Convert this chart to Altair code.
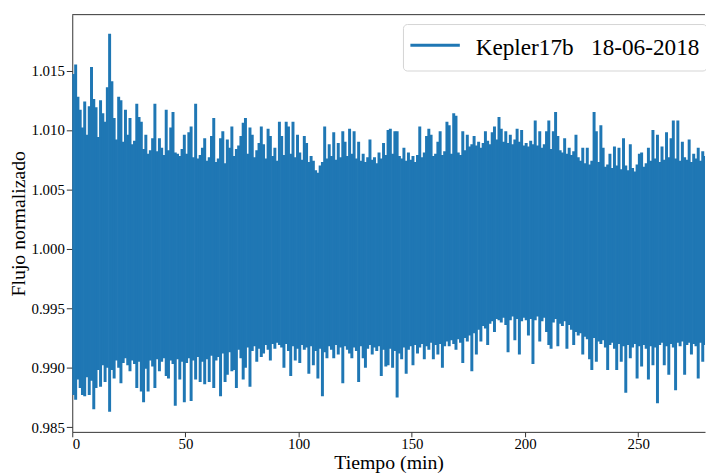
import altair as alt
import pandas as pd

# Per-minute maximum (upper envelope) of the normalised flux
flux_max = [
    1.0147, 1.0155, 1.0128, 1.0117, 1.0102, 1.0124, 1.0096, 1.0120, 1.0153, 1.0126,
    1.0119, 1.0094, 1.0125, 1.0114, 1.0107, 1.0136, 1.0181, 1.0141, 1.0110, 1.0092,
    1.0128, 1.0125, 1.0090, 1.0117, 1.0096, 1.0110, 1.0088, 1.0091, 1.0122, 1.0111,
    1.0107, 1.0084, 1.0096, 1.0080, 1.0083, 1.0093, 1.0122, 1.0082, 1.0093, 1.0085,
    1.0079, 1.0117, 1.0083, 1.0102, 1.0115, 1.0081, 1.0080, 1.0078, 1.0084, 1.0096,
    1.0080, 1.0098, 1.0103, 1.0077, 1.0122, 1.0076, 1.0079, 1.0085, 1.0093, 1.0074,
    1.0077, 1.0095, 1.0110, 1.0073, 1.0076, 1.0093, 1.0099, 1.0072, 1.0092, 1.0085,
    1.0103, 1.0078, 1.0084, 1.0087, 1.0095, 1.0106, 1.0110, 1.0080, 1.0102, 1.0096,
    1.0077, 1.0083, 1.0089, 1.0103, 1.0088, 1.0076, 1.0101, 1.0095, 1.0078, 1.0085,
    1.0074, 1.0107, 1.0095, 1.0079, 1.0107, 1.0103, 1.0080, 1.0107, 1.0077, 1.0096,
    1.0081, 1.0075, 1.0095, 1.0089, 1.0073, 1.0078, 1.0074, 1.0066, 1.0064, 1.0070,
    1.0073, 1.0103, 1.0076, 1.0088, 1.0078, 1.0098, 1.0075, 1.0089, 1.0077, 1.0099,
    1.0090, 1.0078, 1.0101, 1.0080, 1.0099, 1.0076, 1.0090, 1.0074, 1.0080, 1.0073,
    1.0077, 1.0092, 1.0075, 1.0077, 1.0072, 1.0081, 1.0076, 1.0089, 1.0079, 1.0100,
    1.0101, 1.0080, 1.0099, 1.0099, 1.0078, 1.0076, 1.0085, 1.0074, 1.0081, 1.0075,
    1.0078, 1.0073, 1.0079, 1.0103, 1.0077, 1.0081, 1.0095, 1.0101, 1.0096, 1.0078,
    1.0080, 1.0090, 1.0099, 1.0079, 1.0082, 1.0107, 1.0104, 1.0080, 1.0114, 1.0112,
    1.0081, 1.0079, 1.0099, 1.0083, 1.0096, 1.0086, 1.0088, 1.0095, 1.0087, 1.0090,
    1.0085, 1.0089, 1.0099, 1.0091, 1.0088, 1.0098, 1.0103, 1.0092, 1.0111, 1.0101,
    1.0090, 1.0099, 1.0089, 1.0096, 1.0088, 1.0092, 1.0101, 1.0090, 1.0100, 1.0087,
    1.0089, 1.0086, 1.0091, 1.0088, 1.0108, 1.0087, 1.0099, 1.0085, 1.0088, 1.0099,
    1.0108, 1.0084, 1.0099, 1.0115, 1.0095, 1.0083, 1.0081, 1.0093, 1.0080, 1.0085,
    1.0079, 1.0082, 1.0096, 1.0077, 1.0074, 1.0085, 1.0072, 1.0085, 1.0071, 1.0074,
    1.0115, 1.0099, 1.0073, 1.0104, 1.0085, 1.0069, 1.0071, 1.0080, 1.0068, 1.0086,
    1.0070, 1.0085, 1.0067, 1.0093, 1.0070, 1.0066, 1.0088, 1.0068, 1.0065, 1.0071,
    1.0080, 1.0081, 1.0069, 1.0072, 1.0085, 1.0074, 1.0100, 1.0076, 1.0096, 1.0073,
    1.0086, 1.0075, 1.0098, 1.0077, 1.0093, 1.0108, 1.0076, 1.0108, 1.0074, 1.0090,
    1.0077, 1.0075, 1.0092, 1.0073, 1.0080, 1.0076, 1.0085, 1.0074, 1.0082, 1.0078,
]

# Per-minute minimum (lower envelope)
flux_min = [
    0.9877, 0.9873, 0.9890, 0.9883, 0.9877, 0.9876, 0.9892, 0.9877, 0.9889, 0.9865,
    0.9883, 0.9898, 0.9884, 0.9902, 0.9888, 0.9900, 0.9863, 0.9898, 0.9891, 0.9906,
    0.9900, 0.9887, 0.9904, 0.9908, 0.9902, 0.9897, 0.9906, 0.9903, 0.9883, 0.9905,
    0.9880, 0.9871, 0.9899, 0.9880, 0.9906, 0.9901, 0.9883, 0.9907, 0.9897, 0.9905,
    0.9908, 0.9893, 0.9891, 0.9906, 0.9903, 0.9868, 0.9907, 0.9890, 0.9905, 0.9871,
    0.9904, 0.9908, 0.9872, 0.9906, 0.9890, 0.9909, 0.9888, 0.9905, 0.9886, 0.9907,
    0.9888, 0.9910, 0.9883, 0.9906, 0.9909, 0.9876, 0.9912, 0.9888, 0.9894, 0.9913,
    0.9897, 0.9898, 0.9883, 0.9915, 0.9908, 0.9890, 0.9900, 0.9917, 0.9884, 0.9914,
    0.9918, 0.9905, 0.9916, 0.9909, 0.9912, 0.9919, 0.9915, 0.9906, 0.9920, 0.9916,
    0.9921, 0.9919, 0.9917, 0.9900, 0.9920, 0.9914, 0.9893, 0.9918, 0.9906, 0.9916,
    0.9904, 0.9919, 0.9915, 0.9917, 0.9895, 0.9918, 0.9902, 0.9914, 0.9891, 0.9916,
    0.9876, 0.9913, 0.9908, 0.9918, 0.9915, 0.9908, 0.9919, 0.9911, 0.9917, 0.9887,
    0.9918, 0.9915, 0.9912, 0.9908, 0.9917, 0.9914, 0.9888, 0.9918, 0.9908, 0.9900,
    0.9916, 0.9919, 0.9911, 0.9917, 0.9914, 0.9918, 0.9893, 0.9915, 0.9901, 0.9902,
    0.9916, 0.9900, 0.9914, 0.9875, 0.9912, 0.9907, 0.9917, 0.9895, 0.9915, 0.9918,
    0.9902, 0.9919, 0.9912, 0.9917, 0.9920, 0.9907, 0.9918, 0.9915, 0.9921, 0.9907,
    0.9919, 0.9911, 0.9920, 0.9900, 0.9918, 0.9922, 0.9918, 0.9923, 0.9920, 0.9915,
    0.9924, 0.9921, 0.9904, 0.9925, 0.9922, 0.9927, 0.9897, 0.9929, 0.9911, 0.9932,
    0.9922, 0.9935, 0.9933, 0.9919, 0.9937, 0.9939, 0.9930, 0.9941, 0.9940, 0.9938,
    0.9942, 0.9936, 0.9913, 0.9940, 0.9943, 0.9923, 0.9941, 0.9911, 0.9939, 0.9942,
    0.9940, 0.9927, 0.9941, 0.9903, 0.9940, 0.9943, 0.9922, 0.9939, 0.9942, 0.9930,
    0.9919, 0.9916, 0.9938, 0.9941, 0.9918, 0.9937, 0.9935, 0.9939, 0.9916, 0.9936,
    0.9932, 0.9919, 0.9930, 0.9927, 0.9929, 0.9911, 0.9926, 0.9924, 0.9907, 0.9898,
    0.9925, 0.9905, 0.9922, 0.9920, 0.9923, 0.9917, 0.9898, 0.9919, 0.9921, 0.9916,
    0.9898, 0.9920, 0.9905, 0.9918, 0.9879, 0.9919, 0.9908, 0.9917, 0.9920, 0.9891,
    0.9918, 0.9901, 0.9919, 0.9916, 0.9890, 0.9918, 0.9902, 0.9917, 0.9870, 0.9919,
    0.9921, 0.9902, 0.9918, 0.9894, 0.9920, 0.9917, 0.9881, 0.9921, 0.9918, 0.9922,
    0.9894, 0.9919, 0.9921, 0.9911, 0.9920, 0.9918, 0.9891, 0.9921, 0.9905, 0.9919,
]

minutes = list(range(len(flux_max)))
x_ticks = [0, 50, 100, 150, 200, 250]
y_ticks = [0.985, 0.990, 0.995, 1.000, 1.005, 1.010, 1.015]
series_label = "Kepler17b\u00a0\u00a0\u00a018-06-2018"

df = pd.DataFrame({"t": [m + 0.5 for m in minutes], "hi": flux_max, "lo": flux_min})
one = pd.DataFrame({"label": [series_label]})

FONT = "Liberation Serif"
BLUE = "#1f77b4"
W, H = 640, 422

xscale = alt.Scale(domain=[0, 279.5], nice=False, zero=False)
yscale = alt.Scale(domain=[0.9846, 1.0197], nice=False, zero=False)

band = alt.Chart(df).mark_rule(strokeWidth=3, clip=True, color=BLUE).encode(
    x=alt.X("t:Q", scale=xscale,
            axis=alt.Axis(values=x_ticks, title="Tiempo (min)", format="d")),
    y=alt.Y("lo:Q", scale=yscale,
            axis=alt.Axis(values=y_ticks, title="Flujo normalizado", format=".3f")),
    y2="hi:Q",
)

top_border = alt.Chart(one).mark_rule(color="#333333", strokeWidth=1).encode(
    x=alt.value(0), x2=alt.value(W), y=alt.value(0)
)

# legend (frame, line sample, label)
leg_box = alt.Chart(one).mark_rect(
    fill="white", fillOpacity=0.85, stroke="#d4d4d4", strokeWidth=1, cornerRadius=4
).encode(x=alt.value(335), x2=alt.value(642), y=alt.value(10), y2=alt.value(57))
leg_line = alt.Chart(one).mark_rule(color=BLUE, strokeWidth=3).encode(
    x=alt.value(342), x2=alt.value(392), y=alt.value(31)
)
leg_text = alt.Chart(one).mark_text(
    font=FONT, fontSize=23.5, color="black", align="left", baseline="alphabetic"
).encode(x=alt.value(408), y=alt.value(41), text="label:N")

chart = alt.layer(band, top_border, leg_box, leg_line, leg_text).properties(
    width=W, height=H,
    autosize=alt.AutoSizeParams(type="none"),
    padding={"left": 65, "top": 4, "right": 1, "bottom": 50},
).configure_view(stroke=None).configure_axis(
    labelFont=FONT, titleFont=FONT, labelFontSize=15, titleFontSize=20,
    labelColor="black", titleColor="black", titleFontWeight="normal",
    domainColor="#333333", tickColor="#333333", grid=False, tickSize=6,
).configure_axisY(labelPadding=2, titlePadding=3).configure_axisX(
    tickSize=5, labelPadding=0, titlePadding=1
)

chart.save("out.html", embed_options={"renderer": "svg", "actions": False})
